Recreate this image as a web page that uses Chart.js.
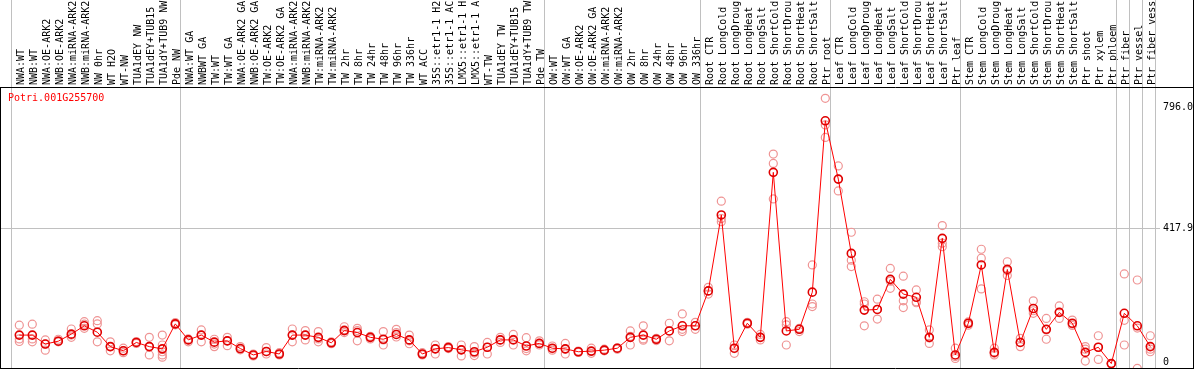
<!DOCTYPE html>
<html>
<head>
<meta charset="utf-8">
<script src="https://cdn.jsdelivr.net/npm/chart.js@4.4.1/dist/chart.umd.min.js"></script>
<style>
  html, body { margin: 0; padding: 0; background: #ffffff; }
  canvas { display: block; }
</style>
</head>
<body>
<canvas id="c" width="1194" height="370"></canvas>
<script>
const geneTitle = "Potri.001G255700";

const categories = [
  "NWA:WT","NWB:WT","NWA:OE-ARK2","NWB:OE-ARK2","NWA:miRNA-ARK2","NWB:miRNA-ARK2","NW 0hr","WT H2O","WT-NW",
  "TUA1dEY NW","TUA1dEY+TUB15","TUA1dY+TUB9 NW","Pde NW",
  "NWA:WT GA","NWBWT GA","TW:WT","TW:WT GA","NWA:OE-ARK2 GA","NWB:OE-ARK2 GA","TW:OE-ARK2","TW:OE-ARK2 GA",
  "NWA:miRNA-ARK2","NWB:miRNA-ARK2","TW:miRNA-ARK2","TW:miRNA-ARK2","TW 2hr","TW 8hr","TW 24hr","TW 48hr",
  "TW 96hr","TW 336hr","WT ACC","35S::etr1-1 H2","35S::etr1-1 AC","LMX5::etr1-1 H","LMX5::etr1-1 A","WT-TW",
  "TUA1dEY TW","TUA1dEY+TUB15","TUA1dY+TUB9 TW","Pde TW",
  "OW:WT","OW:WT GA","OW:OE-ARK2","OW:OE-ARK2 GA","OW:miRNA-ARK2","OW:miRNA-ARK2","OW 2hr","OW 8hr","OW 24hr",
  "OW 48hr","OW 96hr","OW 336hr",
  "Root CTR","Root LongCold","Root LongDroug","Root LongHeat","Root LongSalt","Root ShortCold","Root ShortDrou",
  "Root ShortHeat","Root ShortSalt","Ptr root",
  "Leaf CTR","Leaf LongCold","Leaf LongDroug","Leaf LongHeat","Leaf LongSalt","Leaf ShortCold","Leaf ShortDrou",
  "Leaf ShortHeat","Leaf ShortSalt","Ptr leaf",
  "Stem CTR","Stem LongCold","Stem LongDroug","Stem LongHeat","Stem LongSalt","Stem ShortCold","Stem ShortDrou",
  "Stem ShortHeat","Stem ShortSalt","Ptr shoot","Ptr xylem",
  "Ptr phloem","Ptr fiber","Ptr vessel","Ptr fiber vess"
];

const meanValues = [
  84, 84, 56, 65, 87, 113, 93, 48, 35, 61, 48, 41, 119,
  69, 84, 62, 66, 42, 22, 33, 25, 84, 84, 77, 60, 98, 92, 77, 71, 86, 69, 25, 41, 45, 38, 32, 46, 69, 69, 50, 58,
  43, 41, 32, 34, 37, 43, 77, 84, 71, 97, 113, 113,
  222, 459, 43, 121, 77, 592, 97, 102, 218, 753,
  571, 339, 162, 164, 258, 212, 202, 77, 386, 22,
  121, 303, 30, 289, 61, 167, 102, 155, 121, 30, 46,
  -5, 152, 113, 48
];

const replicateValues = [
  [115,72,64],[118,72,63],[69,56,37],[71,66,63],[103,84,77],[126,118,105],[129,119,63],[63,48,35],[43,35,29],
  [64,61,58],[77,48,22],[84,53,32,22,15],[123,118,116],
  [72,69,63],[100,84,63],[71,56,48],[77,66,51],[48,40,38],[25,21,19],[45,32,25],[29,25,22],
  [103,84,63],[98,84,69],[95,72,63],[63,60,57],[110,100,92],[105,98,66],[80,77,72],[95,69,53],
  [102,92,78],[84,66,57],[29,25,22],[53,41,25],[48,45,42],[53,38,19],[48,28,20],[61,46,25],
  [77,69,61],[86,71,53],[76,42,35],[66,58,53],
  [50,42,37],[58,40,25],[34,32,30],[43,33,27],[40,37,35],[44,42,40],[97,80,53],[113,72,68],[74,70,67],
  [121,97,66],[150,102,95],[124,114,102],
  [233,222,212],[502,448,438],[53,42,27],[124,121,118],[86,77,69],[649,620,509],[126,116,53],
  [105,102,95],[303,181,173],[823,740,701],
  [612,571,534],[405,318,298],[188,181,113],[196,164,134],[292,252,230],[268,191,170],[225,188,185],
  [100,75,58],[426,371,360],[43,17,11],
  [125,120,115],[352,324,228],[43,27,22],[313,285,270],[74,62,48],[191,160,152],[136,100,71],
  [175,155,136],[131,118,114],[48,40,3],[82,46,8],
  [-5,-5,-5],[275,130,53],[256,106,-20],[82,40,32]
];

// index of the last category in each group (-1 = start)
const groupEnds = [-1, 12, 40, 52, 62, 72, 84, 85, 86, 87];
const yTickValues = [0, 417.9, 796.0];

const MONO = "'DejaVu Sans Mono', 'Liberation Mono', monospace";

const meanPoints = meanValues.map((v, i) => ({ x: i, y: v }));
const repPoints = [];
replicateValues.forEach((arr, i) => arr.forEach(v => repPoints.push({ x: i, y: v })));

const X_MIN = -1.485, X_MAX = X_MIN + 1160 / 13;
const PX_PER_UNIT = (362 - 107) / 796;
const Y_MAX = 796 + (107 - 87) / PX_PER_UNIT;
const Y_MIN = -(368 - 362) / PX_PER_UNIT;

const framePlugin = {
  id: 'frame',
  beforeDatasetsDraw(chart) {
    const ctx = chart.ctx;
    const xs = chart.scales.x;
    const area = chart.chartArea;
    ctx.save();
    ctx.strokeStyle = '#c0c0c0';
    ctx.lineWidth = 1;
    groupEnds.forEach(g => {
      const px = Math.round(xs.getPixelForValue(g + 0.385)) + 0.5;
      ctx.beginPath();
      ctx.moveTo(px, 0);
      ctx.lineTo(px, area.bottom);
      ctx.stroke();
    });
    ctx.restore();
  },
  afterDraw(chart) {
    const ctx = chart.ctx;
    const area = chart.chartArea;
    const W = chart.width;
    ctx.save();
    ctx.strokeStyle = '#000000';
    ctx.lineWidth = 1;
    ctx.beginPath();
    ctx.moveTo(0, area.top + 0.5); ctx.lineTo(W, area.top + 0.5);
    ctx.moveTo(0, area.bottom + 0.5); ctx.lineTo(W, area.bottom + 0.5);
    ctx.moveTo(0.5, area.top); ctx.lineTo(0.5, area.bottom + 1);
    ctx.moveTo(W - 0.5, 0); ctx.lineTo(W - 0.5, area.bottom + 1);
    ctx.stroke();
    ctx.fillStyle = '#ff0000';
    ctx.font = '10px ' + MONO;
    ctx.textBaseline = 'middle';
    ctx.textAlign = 'left';
    ctx.fillText(geneTitle, 8, 98);
    ctx.restore();
  }
};

new Chart(document.getElementById('c'), {
  type: 'line',
  data: {
    datasets: [
      {
        label: 'mean',
        data: meanPoints,
        order: 0,
        borderColor: '#ff0000',
        borderWidth: 1,
        pointRadius: 4,
        pointBorderWidth: 1.6,
        pointBorderColor: '#e00000',
        pointBackgroundColor: 'rgba(0,0,0,0)',
        tension: 0,
        fill: false
      },
      {
        type: 'scatter',
        label: 'replicates',
        data: repPoints,
        order: 1,
        showLine: false,
        pointRadius: 4,
        pointBorderWidth: 1.2,
        pointBorderColor: '#ef9494',
        pointBackgroundColor: 'rgba(0,0,0,0)'
      }
    ]
  },
  options: {
    responsive: false,
    devicePixelRatio: 1,
    animation: false,
    events: [],
    layout: { autoPadding: false, padding: { left: 0, right: 0, top: 0, bottom: 2 } },
    plugins: { legend: { display: false }, tooltip: { enabled: false }, title: { display: false } },
    scales: {
      x: {
        type: 'linear',
        display: false,
        min: X_MIN,
        max: X_MAX
      },
      xTop: {
        type: 'linear',
        position: 'top',
        min: X_MIN,
        max: X_MAX,
        grid: { display: false, drawTicks: false },
        border: { display: false },
        afterBuildTicks(scale) { scale.ticks = categories.map((_, i) => ({ value: i })); },
        afterFit(scale) {
          scale.height = 87;
          scale.paddingLeft = 0; scale.paddingRight = 0;
          scale.paddingTop = 0; scale.paddingBottom = 0;
        },
        ticks: {
          autoSkip: false,
          minRotation: 90,
          maxRotation: 90,
          padding: 2,
          labelOffset: 14,
          color: '#000000',
          font: { family: MONO, size: 10 },
          callback: (v) => categories[v]
        }
      },
      y: {
        type: 'linear',
        position: 'right',
        min: Y_MIN,
        max: Y_MAX,
        afterBuildTicks(scale) { scale.ticks = yTickValues.map(v => ({ value: v })); },
        afterFit(scale) {
          scale.width = 34;
          scale.paddingTop = 0; scale.paddingBottom = 0;
          scale.paddingLeft = 0; scale.paddingRight = 0;
        },
        border: { display: false },
        grid: {
          drawTicks: false,
          color: (c) => (c.tick && c.tick.value === 417.9) ? '#c0c0c0' : 'rgba(0,0,0,0)'
        },
        ticks: {
          padding: 3,
          color: '#000000',
          font: { family: MONO, size: 10 },
          callback: (v) => v === 0 ? '0' : v.toFixed(1)
        }
      }
    }
  },
  plugins: [framePlugin]
});
</script>
</body>
</html>
